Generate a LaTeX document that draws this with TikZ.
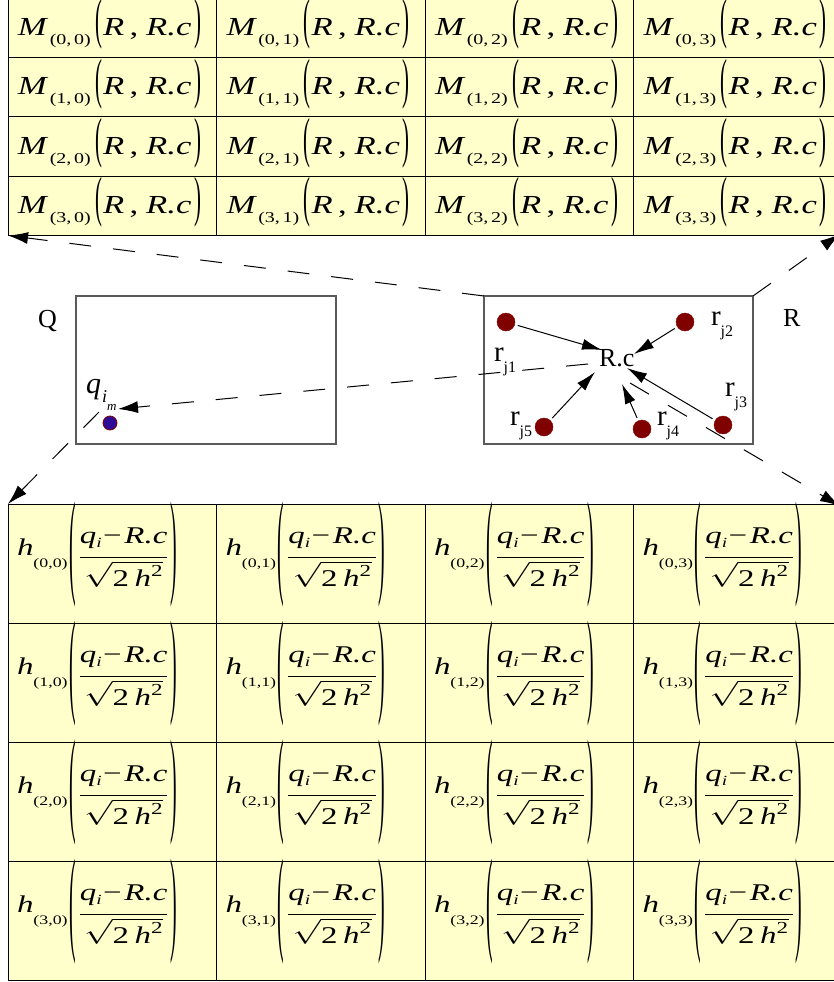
\documentclass[tikz,border=0pt]{standalone}
\usepackage{amsmath}
\usepackage{fontspec}
\setmainfont{Liberation Serif}
\usepackage{graphicx}
\usetikzlibrary{arrows.meta,calc}
\definecolor{cellfill}{HTML}{FFFFCC}
\definecolor{dotred}{HTML}{800000}
\definecolor{dotblue}{HTML}{2E0B96}
\definecolor{boxgray}{HTML}{5A5A5A}
\newcommand{\tp}[4]{\raisebox{#3}{\scalebox{#4}[#2]{#1}}}
\newcommand{\Mexpr}[2]{\resizebox{183pt}{\height}{\fontsize{26}{30}\selectfont\textit{M}\hspace{1pt}\raisebox{-9pt}{\fontsize{15}{15}\selectfont(#1,\hspace{2pt}#2)}\hspace{3.5pt}\tp{(}{2.12}{-2.3pt}{0.6}\hspace{0.5pt}\textit{R}\hspace{4pt},\hspace{6pt}\textit{R.c}\hspace{2pt}\tp{)}{2.12}{-2.3pt}{0.6}}}
\newcommand{\Hexpr}[2]{\resizebox{160pt}{\height}{\fontsize{24}{28}\selectfont\raisebox{8pt}{\textit{h}}\raisebox{-4pt}{\fontsize{13}{13}\selectfont(#1,#2)}\hspace{1pt}\tp{(}{4.84}{-18.5pt}{0.6}\hspace{2pt}$\displaystyle\frac{\rule[-10.5pt]{0pt}{1pt}\text{\itshape q\raisebox{-4pt}{\fontsize{14}{14}\selectfont i}\hspace{1pt}\upshape\char"2212\hspace{2pt}\itshape R.c}}{\sqrt{\rule{0pt}{21pt}\text{2}\,\text{\itshape h}^{\text{2}}}}$\hspace{1pt}\tp{)}{4.84}{-18.5pt}{0.6}}}
\newcommand{\rj}[1]{r\raisebox{-11pt}{\fontsize{16}{16}\selectfont j#1}}
\begin{document}
\begin{tikzpicture}[x=1pt,y=-1pt,
  tcell/.style={draw=black,line width=1pt,fill=cellfill,minimum width=208.5pt,minimum height=59.3pt,inner sep=0pt,outer sep=0pt},
  bcell/.style={tcell,minimum height=119pt},
  form/.style={inner sep=0pt,outer sep=0pt,anchor=base west},
  lbl/.style={inner sep=0pt,outer sep=0pt,anchor=base west,font=\fontsize{26}{30}\selectfont},
  rlbl/.style={lbl,font=\fontsize{29}{32}\selectfont},
  region/.style={draw=boxgray,line width=1.5pt,fill=white,inner sep=0pt,outer sep=0pt},
  rdot/.style={circle,fill=dotred,draw=dotred,minimum size=18pt,inner sep=0pt},
  qdot/.style={circle,fill=dotblue,draw=dotred,line width=0.8pt,minimum size=14pt,inner sep=0pt},
  darr/.style={line width=1pt,dash pattern=on 22pt off 22pt,-{Latex[length=20pt,width=12pt]}},
  sarr/.style={line width=1pt,-{Latex[length=20pt,width=11pt]},shorten <=3pt}]
\clip (0,0) rectangle (834,982);
\fill[white] (0,0) rectangle (834,982);
% top grid
\foreach \r in {0,...,3}{
  \foreach \c in {0,...,3}{
    \node[tcell] (t\r\c) at ({8+208.5*\c+104.25},{-1.7+59.3*\r+29.65}) {};
    \node[form] (tf\r\c) at ($(t\r\c.west)+(10,7.5)$) {\Mexpr{\r}{\c}};
  }}
% bottom grid
\foreach \r in {0,...,3}{
  \foreach \c in {0,...,3}{
    \node[bcell] (b\r\c) at ({8+208.5*\c+104.25},{504+119*\r+59.5}) {};
    \node[form] (bf\r\c) at ($(b\r\c.west)+(9,0.4)$) {\Hexpr{\r}{\c}};
  }}
% regions
\node[region,minimum width=260pt,minimum height=148pt] (Qbox) at (206,370) {};
\node[region,minimum width=269pt,minimum height=148pt] (Rbox) at (618.5,370) {};
\node[lbl] (Qlab) at (38,327) {Q};
\node[lbl] (Rlab) at (783,326) {R};
\node[lbl] (Rc) at (599,366) {R.c};
% points of R
\node[rdot] (d1) at (506,322) {};
\node[rdot] (d2) at (685,322) {};
\node[rdot] (d3) at (723,425) {};
\node[rdot] (d4) at (642,429) {};
\node[rdot] (d5) at (544,427) {};
\node[rlbl] (l1) at (494,361) {\rj{1}};
\node[rlbl] (l2) at (711,325) {\rj{2}};
\node[rlbl] (l3) at (725,396) {\rj{3}};
\node[rlbl] (l4) at (657,425) {\rj{4}};
\node[rlbl] (l5) at (510,425) {\rj{5}};
% query point
\node[qdot] (qd) at (110,423) {};
\node[lbl,font=\fontsize{30}{34}\selectfont] (ql) at (86,393) {\textit{q}\hspace{1pt}\raisebox{-9pt}{\fontsize{18}{18}\selectfont\textit{i}\raisebox{-8pt}{\fontsize{13}{13}\selectfont\textit{m}}}};
% arrow ends
\coordinate (c1) at (602,350);
\coordinate (c2) at (634,354);
\coordinate (c3) at (627,368);
\coordinate (c4) at (622,384);
\coordinate (c5) at (595,372);
\draw[sarr] (d1) -- (c1);
\draw[sarr] (d2) -- (c2);
\draw[sarr] (d3) -- (c3);
\draw[sarr] (d4) -- (c4);
\draw[sarr] (d5) -- (c5);
% dashed arrows
\coordinate (a2e) at (840,234);
\coordinate (a3s) at (630,383);
\coordinate (a3e) at (840,506);
\coordinate (a4s) at (588,364);
\coordinate (a4e) at (118,409);
\coordinate (a5s) at (99,412);
\draw[darr] (Rbox.north west) -- (t30.south west);
\draw[darr] (Rbox.north east) -- (a2e);
\draw[darr] (a3s) -- (a3e);
\draw[darr] (a4s) -- (a4e);
\draw[darr] (a5s) -- (b00.north west);
\end{tikzpicture}
\end{document}
